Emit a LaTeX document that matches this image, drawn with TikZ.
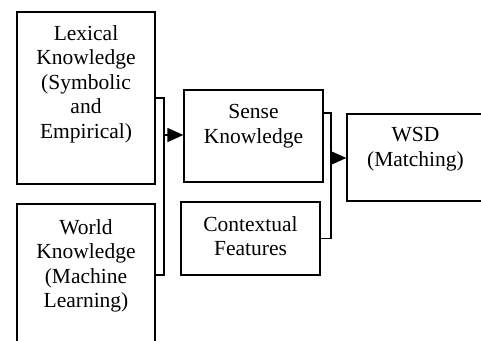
\documentclass[tikz,border=0pt]{standalone}
\usepackage{fontspec}
\setmainfont{Liberation Serif}
\usetikzlibrary{arrows.meta, positioning, calc}

\begin{document}
\begin{tikzpicture}[x=1pt, y=-1pt,
    box/.style={draw, line width=1.3pt, inner sep=0pt, minimum width=#1},
    txt/.style={anchor=north, align=center, inner sep=0pt, font=\fontsize{21.5}{24.5}\selectfont},
    lnk/.style={line width=1.3pt},
    arr/.style={lnk, -{Triangle[length=16pt, width=14pt]}}
  ]
    \useasboundingbox (0,0) rectangle (481,340);
    \clip (0,0) rectangle (481,340);

    % Boxes
    \node[box=138pt, minimum height=172pt] (lex)     at (86,98)       {};
    \node[box=138pt, minimum height=172pt] (world)   at (86,290)      {};
    \node[box=139pt, minimum height=92pt]  (sense)   at (253.5,136)   {};
    \node[box=139pt, minimum height=73pt]  (context) at (250.5,238.5) {};
    \node[box=137pt, minimum height=87pt]  (wsd)     at (415.5,157.5) {};

    % Texts
    \node[txt, below=14pt of lex.north]     (lextxt)     {Lexical\\Knowledge\\(Symbolic\\and\\Empirical)};
    \node[txt, below=16pt of world.north]   (worldtxt)   {World\\Knowledge\\(Machine\\Learning)};
    \node[txt, below=15pt of sense.north]   (sensetxt)   {Sense\\Knowledge};
    \node[txt, below=15pt of context.north] (contexttxt) {Contextual\\Features};
    \node[txt, below=14pt of wsd.north]     (wsdtxt)     {WSD\\(Matching)};

    % Connectors
    \coordinate (bus1) at (164,135);
    \coordinate (bus2) at (331,158);
    \draw[lnk] (lex.east) -| (bus1) |- (world.east |- 0,275);
    \draw[arr] (bus1) -- (bus1 -| sense.west);
    \draw[lnk] (sense.east |- 0,113) -| (bus2) |- (context.east);
    \draw[arr] (bus2) -- (bus2 -| wsd.west);
  \end{tikzpicture}
\end{document}
